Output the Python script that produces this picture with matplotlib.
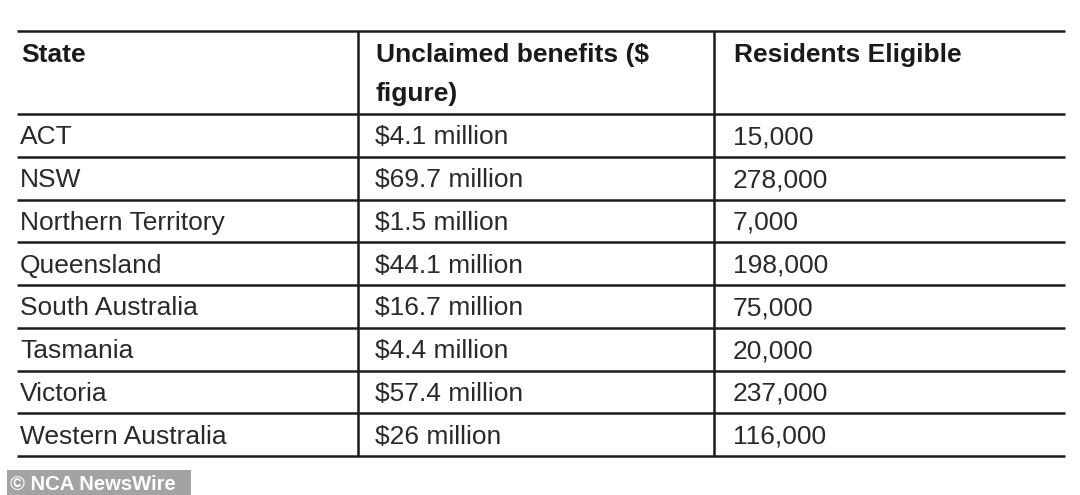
import matplotlib.pyplot as plt

# table content
headers = ["State", "Unclaimed benefits ($\nfigure)", "Residents Eligible"]
states = ["ACT", "NSW", "Northern Territory", "Queensland", "South Australia",
          "Tasmania", "Victoria", "Western Australia"]
unclaimed = ["$4.1 million", "$69.7 million", "$1.5 million", "$44.1 million",
             "$16.7 million", "$4.4 million", "$57.4 million", "$26 million"]
residents = ["15,000", "278,000", "7,000", "198,000", "75,000", "20,000",
             "237,000", "116,000"]
credit = "\u00a9 NCA NewsWire"

plt.rcParams["font.family"] = ["Liberation Sans", "DejaVu Sans"]

W, H = 1080, 495
fig = plt.figure(figsize=(W / 100, H / 100), dpi=100)
ax = fig.add_axes([0, 0, 1, 1])
ax.set_xlim(0, W)
ax.set_ylim(H, 0)
ax.axis("off")

# layout in pixel units
left, right = 17, 1065
top, header_bottom = 31, 114
row_h = (456 - header_bottom) / len(states)
col_x = [358, 714]
text_x = [20, 375, 733]
line_col = "#1c1c1c"
lw = 1.8

row_lines = [top, header_bottom] + [header_bottom + row_h * (i + 1) for i in range(len(states))]
ax.hlines(row_lines, left, right, colors=line_col, lw=lw)
ax.vlines(col_x, top, row_lines[-1], colors=line_col, lw=lw)

# header (wrapped lines drawn one by one)
for x, h in zip(text_x, headers):
    for k, part in enumerate(h.split("\n")):
        ax.text(x + 1, 62 + 39 * k, part, fontsize=19, fontweight="bold",
                color="#1a1a1a", va="baseline", ha="left")

# body rows
for i, row in enumerate(zip(states, unclaimed, residents)):
    yc = header_bottom + row_h * (i + 0.5)
    for x, val in zip(text_x, row):
        ax.text(x, yc + 9, val, fontsize=19, color="#2a2a2a",
                va="baseline", ha="left")

# watermark
ax.add_patch(plt.Rectangle((7, 470), 184, 26, color="#a3a3a3", lw=0))
ax.text(10, 490, credit, fontsize=14.6, fontweight="bold", color="white",
        va="baseline", ha="left")

fig.savefig("out.png", dpi=100, facecolor="white")
